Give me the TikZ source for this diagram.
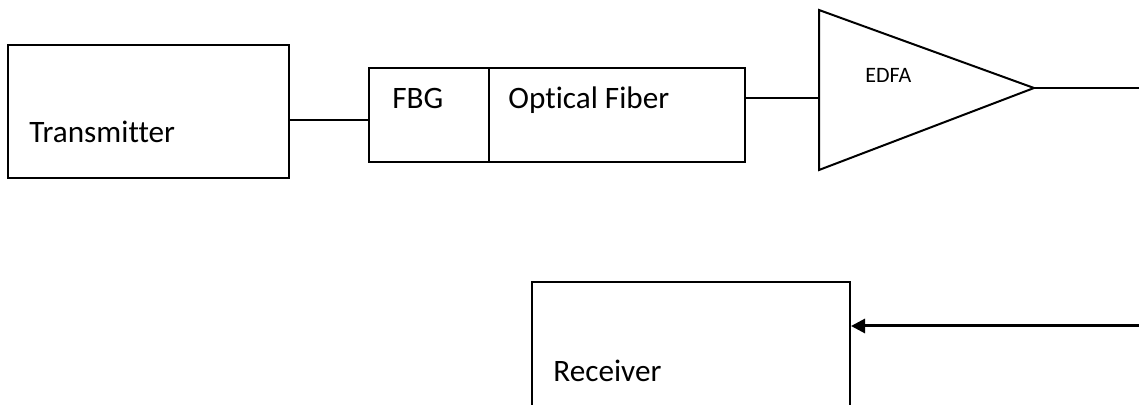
\documentclass[tikz,border=0pt]{standalone}
\usepackage{fontspec}
\setmainfont[Ligatures=NoCommon]{Carlito}
\usetikzlibrary{arrows.meta}
\begin{document}
\begin{tikzpicture}[x=0.5pt,y=-0.5pt,
  box/.style={draw,line width=1pt,inner sep=0pt,minimum width=#1},
  lbl/.style={anchor=base west,inner sep=0pt,font=\fontsize{15.6}{18}\selectfont},
  wire/.style={line width=1pt}]
\clip (0,0) rectangle (1139,405);
% boxes
\node[box=140.5pt,minimum height=66.5pt] (tx) at (148.5,111.5) {};
\node[box=60pt,minimum height=47pt] (fbg) at (429,115) {};
\node[box=128pt,minimum height=47pt] (fib) at (617,115) {};
\node[box=159pt,minimum height=74pt] (rx) at (691,356) {};
% texts
\node[lbl] (txt) at (29,143) {Transmitter};
\node[lbl] (fbgt) at (392,109) {FBG};
\node[lbl] (fibt) at (508,109) {Optical Fiber};
\node[lbl] (rxt) at (553,381) {Receiver};
% amplifier
\coordinate (ta) at (819,10);
\coordinate (tb) at (819,170);
\coordinate (tip) at (1034,88);
\draw[wire,line join=miter] (ta) -- (tip) -- (tb) -- cycle;
\node[anchor=base west,inner sep=0pt,font=\fontsize{11}{13}\selectfont] (edfa) at (865,83) {EDFA};
% level coordinates
\coordinate (y1) at (0,120);
\coordinate (y2) at (0,98);
\coordinate (rend) at (1139,88);
\coordinate (aend) at (1139,326);
% connectors
\draw[wire] (tx.east |- y1) -- (fbg.west |- y1);
\draw[wire] (fib.east |- y2) -- (ta |- y2);
\draw[wire] (tip) -- (rend);
\draw[line width=1.5pt,-{Triangle[length=7pt,width=7pt]}] (aend) -- (rx.east |- aend);
\end{tikzpicture}
\end{document}
